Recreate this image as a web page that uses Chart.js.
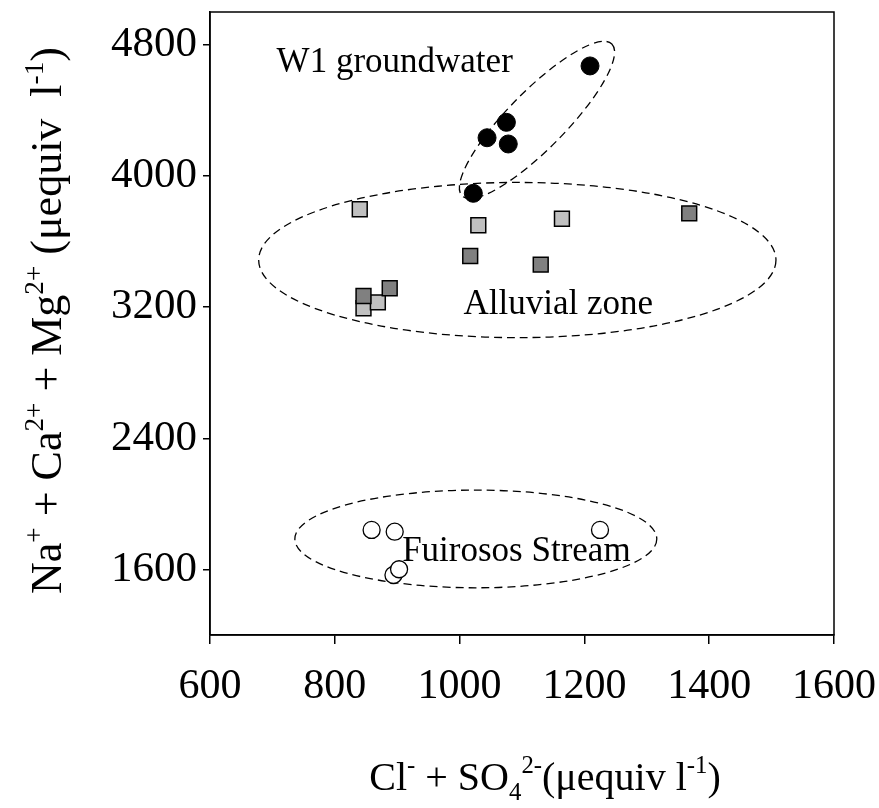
<!DOCTYPE html>
<html lang="en">
<head>
    <meta charset="UTF-8">
    <title>Cations vs anions</title>
    <style>
        html, body {
            margin: 0;
            padding: 0;
            background: #fff;
        }
        canvas {
            display: block;
        }
    </style>
    <script src="https://cdn.jsdelivr.net/npm/chart.js"></script>
</head>
<body>
    <canvas id="ionChart" width="879" height="808"></canvas>

    <script>
        // x = Cl- + SO4 2- , y = Na+ + Ca2+ + Mg2+ (µequiv/l)
        const w1X = [1209, 1075, 1044, 1078, 1022];
        const w1Y = [4671, 4327, 4233, 4195, 3894];
        const alluvialDarkX = [1368, 1017, 1130, 846, 888];
        const alluvialDarkY = [3772, 3512, 3459, 3268, 3315];
        const alluvialLightX = [840, 1030, 1164, 846, 869];
        const alluvialLightY = [3797, 3699, 3739, 3193, 3229];
        const streamX = [859, 896, 1225, 894, 903];
        const streamY = [1841, 1830, 1841, 1566, 1601];

        const xTicks = [600, 800, 1000, 1200, 1400, 1600];
        const yTicks = [1600, 2400, 3200, 4000, 4800];

        // dashed outlines: ends of the long axis (data units) and short/long ratio
        const groupEllipseFrom = [[1004, 3878], [678, 3487], [736, 1786]];
        const groupEllipseTo = [[1244, 4805], [1507, 3487], [1316, 1786]];
        const groupEllipseRatio = [0.27, 0.30, 0.27];
        const groupLabels = ['W1 groundwater', 'Alluvial zone', 'Fuirosos Stream'];
        const groupLabelX = [896, 1158, 1091];
        const groupLabelY = [4690, 3213, 1709];

        const serif = '"Liberation Serif", "Times New Roman", serif';

        const toPoints = (xs, ys) => xs.map((x, i) => ({ x: x, y: ys[i] }));

        // draws text with sup/sub pieces, centred on (cx, y baseline)
        function richText(ctx, parts, cx, y, size) {
            const small = size * 0.62;
            let total = 0;
            parts.forEach(p => {
                ctx.font = (p[1] ? small : size) + 'px ' + serif;
                p.w = ctx.measureText(p[0]).width;
                total += p.w;
            });
            let x = cx - total / 2;
            parts.forEach(p => {
                ctx.font = (p[1] ? small : size) + 'px ' + serif;
                let dy = 0;
                if (p[1] === 'sup') dy = -size * 0.42;
                if (p[1] === 'sub') dy = size * 0.24;
                ctx.fillText(p[0], x, y + dy);
                x += p.w;
            });
        }

        const xTitle = [['Cl'], ['-', 'sup'], [' + SO'], ['4', 'sub'], ['2-', 'sup'], ['(\u03bcequiv l'], ['-1', 'sup'], [')']];
        const yTitle = [['Na'], ['+', 'sup'], [' + Ca'], ['2+', 'sup'], [' + Mg'], ['2+', 'sup'], [' (\u03bcequiv  l'], ['-1', 'sup'], [')']];

        const extras = {
            id: 'extras',
            beforeDatasetsDraw(chart) {
                const ctx = chart.ctx;
                const sx = chart.scales.x, sy = chart.scales.y;
                ctx.save();
                ctx.strokeStyle = '#000';
                ctx.lineWidth = 1.3;
                ctx.setLineDash([8, 5]);
                groupEllipseFrom.forEach((a, i) => {
                    const b = groupEllipseTo[i];
                    const x1 = sx.getPixelForValue(a[0]), y1 = sy.getPixelForValue(a[1]);
                    const x2 = sx.getPixelForValue(b[0]), y2 = sy.getPixelForValue(b[1]);
                    const rx = Math.hypot(x2 - x1, y2 - y1) / 2;
                    ctx.beginPath();
                    ctx.ellipse((x1 + x2) / 2, (y1 + y2) / 2, rx, rx * groupEllipseRatio[i],
                        Math.atan2(y2 - y1, x2 - x1), 0, Math.PI * 2);
                    ctx.stroke();
                });
                ctx.restore();
            },
            afterDatasetsDraw(chart) {
                const ctx = chart.ctx;
                const sx = chart.scales.x, sy = chart.scales.y;
                const area = chart.chartArea;
                ctx.save();
                ctx.fillStyle = '#000';
                ctx.font = '35px ' + serif;
                ctx.textAlign = 'center';
                ctx.textBaseline = 'middle';
                groupLabels.forEach((t, i) => {
                    ctx.fillText(t, sx.getPixelForValue(groupLabelX[i]), sy.getPixelForValue(groupLabelY[i]));
                });

                // plot frame
                ctx.strokeStyle = '#000';
                ctx.lineWidth = 1.5;
                ctx.strokeRect(area.left, area.top, area.right - area.left, area.bottom - area.top);

                // axis titles
                ctx.textAlign = 'left';
                ctx.textBaseline = 'alphabetic';
                richText(ctx, xTitle, (area.left + area.right) / 2 + 23, 790, 40);
                ctx.translate(61, (area.top + area.bottom) / 2 - 3);
                ctx.rotate(-Math.PI / 2);
                richText(ctx, yTitle, 0, 0, 44);
                ctx.restore();
            }
        };

        new Chart(document.getElementById('ionChart').getContext('2d'), {
            type: 'scatter',
            data: {
                datasets: [
                    {
                        label: 'W1 groundwater',
                        data: toPoints(w1X, w1Y),
                        pointStyle: 'circle',
                        pointRadius: 9,
                        backgroundColor: '#000',
                        borderColor: '#000',
                        borderWidth: 1
                    },
                    {
                        label: 'Alluvial (dark)',
                        data: toPoints(alluvialDarkX, alluvialDarkY),
                        pointStyle: 'rect',
                        pointRadius: 10.5,
                        backgroundColor: '#808080',
                        borderColor: '#000',
                        borderWidth: 1.5
                    },
                    {
                        label: 'Alluvial (light)',
                        data: toPoints(alluvialLightX, alluvialLightY),
                        pointStyle: 'rect',
                        pointRadius: 10.5,
                        backgroundColor: '#c0c0c0',
                        borderColor: '#000',
                        borderWidth: 1.5
                    },
                    {
                        label: 'Fuirosos Stream',
                        data: toPoints(streamX, streamY),
                        pointStyle: 'circle',
                        pointRadius: 8.5,
                        backgroundColor: '#fff',
                        borderColor: '#000',
                        borderWidth: 1.3
                    }
                ]
            },
            options: {
                responsive: false,
                animation: false,
                events: [],
                layout: {
                    padding: { top: 12, right: 45, left: 0, bottom: 0 }
                },
                plugins: {
                    legend: { display: false },
                    tooltip: { enabled: false }
                },
                scales: {
                    x: {
                        type: 'linear',
                        min: 600,
                        max: 1600,
                        afterBuildTicks: s => { s.ticks = xTicks.map(v => ({ value: v })); },
                        afterFit: s => {
                            s.height = 808 - 635;
                            s.paddingLeft = 0;
                            s.paddingRight = 0;
                        },
                        ticks: {
                            color: '#000',
                            padding: 18,
                            maxRotation: 0,
                            font: { family: serif, size: 42 },
                            callback: v => String(v)
                        },
                        grid: { drawOnChartArea: false, tickLength: 9, color: '#000', lineWidth: 1.5 },
                        border: { display: true, color: '#000', width: 1.5 }
                    },
                    y: {
                        type: 'linear',
                        min: 1200,
                        max: 5000,
                        afterBuildTicks: s => { s.ticks = yTicks.map(v => ({ value: v })); },
                        afterFit: s => {
                            s.width = 210;
                            s.paddingTop = 0;
                            s.paddingBottom = 0;
                        },
                        ticks: {
                            color: '#000',
                            padding: 6,
                            font: { family: serif, size: 43 },
                            callback: v => String(v)
                        },
                        grid: { drawOnChartArea: false, tickLength: 7, color: '#000', lineWidth: 1.5 },
                        border: { display: true, color: '#000', width: 1.5 }
                    }
                }
            },
            plugins: [extras]
        });
    </script>
</body>
</html>
